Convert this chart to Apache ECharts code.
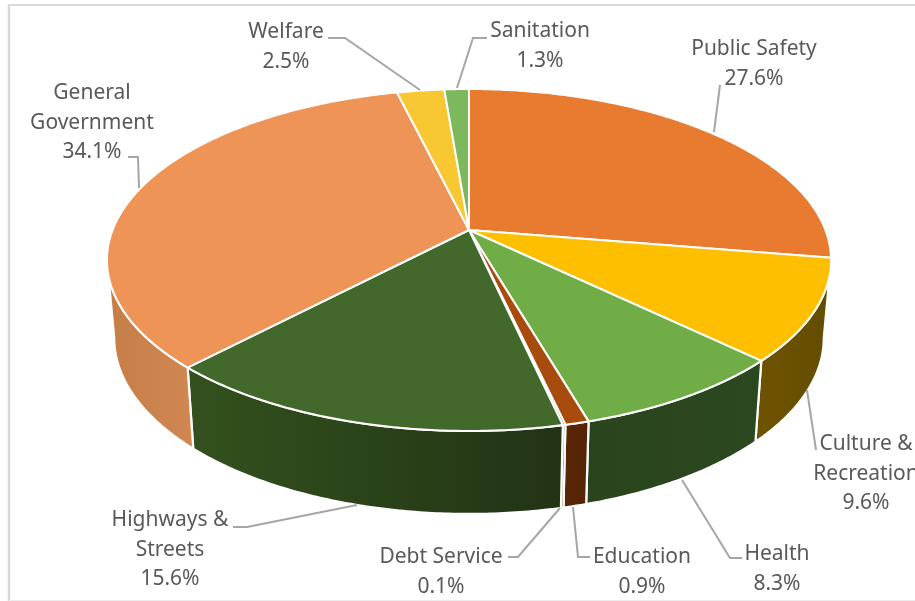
<!DOCTYPE html>
<html>
<head>
<meta charset="utf-8">
<style>html,body{margin:0;padding:0;background:#fff}#chart{width:915px;height:601px}</style>
<script src="https://cdn.jsdelivr.net/npm/echarts@6/dist/echarts.min.js"></script>
</head>
<body>
<div id="chart"></div>
<script>
// Share of spending by function, clockwise from twelve o'clock.
const categories = ['Public Safety', 'Culture &\nRecreation', 'Health', 'Education', 'Debt Service',
  'Highways &\nStreets', 'General\nGovernment', 'Welfare', 'Sanitation'];
const shares = [27.6, 9.6, 8.3, 0.9, 0.1, 15.6, 34.1, 2.5, 1.3];

const topColors = ['#E97B30', '#FDBF00', '#70AD47', '#A84C0E', '#997300', '#43682B', '#EE9456', '#F8C833', '#7DB85C'];
const wallColors = [
  ['#8A4A1C', '#8A4A1C'], ['#6E5300', '#644C00'], ['#2A451E', '#2C4820'], ['#5A2607', '#552406'], ['#5A4300', '#5A4300'],
  ['#33511E', '#223314'], ['#C67E48', '#D08751'], ['#9A7A20', '#9A7A20'], ['#4C7038', '#4C7038']
];

// Label placement: text centre, first line centre, and the leader line drawn to the slice.
const callouts = [
  { x: 754, y: 49, line: [[720, 85], [714, 132]] },
  { x: 866, y: 444, line: [[816, 450], [807, 390]] },
  { x: 777, y: 554, line: [[742, 558], [730, 558], [682, 480]] },
  { x: 642, y: 557, line: [[590, 557], [578, 557], [573, 507]] },
  { x: 441, y: 557, line: [[508, 557], [518, 557], [560, 508]] },
  { x: 170, y: 520, line: [[233, 527], [247, 527], [357, 505]] },
  { x: 92, y: 93, line: [[128, 157], [138, 157], [139, 188]] },
  { x: 286, y: 32, line: [[328, 38], [345, 38], [420, 90]] },
  { x: 540, y: 31, line: [[487, 38], [473, 38], [457, 88]] }
];

// Perspective projection of the disc: angle runs clockwise from the far point.
const view = { cx: 469, cy: 230, a: 356.4, b: 165.7, k: 0.1754, floorY: 307, floorSx: 0.98, floorSy: 1.03 };

function rimPoint(theta, floor) {
  const w = 1 + view.k * Math.cos(theta);
  const dx = view.a * Math.sin(theta) / w;
  const dy = -view.b * Math.cos(theta) / w;
  return floor
    ? [view.cx + dx * view.floorSx, view.floorY + dy * view.floorSy]
    : [view.cx + dx, view.cy + dy];
}

function arc(from, to, floor) {
  const pts = [];
  const n = Math.max(2, Math.ceil(Math.abs(to - from) / 0.01));
  for (let i = 0; i <= n; i++) pts.push(rimPoint(from + (to - from) * i / n, floor));
  return pts;
}

const total = shares.reduce((s, v) => s + v, 0);
const sliceAngles = [];
shares.reduce((acc, v) => {
  sliceAngles.push([acc / total * 2 * Math.PI, (acc + v) / total * 2 * Math.PI]);
  return acc + v;
}, 0);

// Only the near side of the drum is visible, between the two silhouette tangents.
const silhouette = Math.acos(-view.k);

function renderWall(params) {
  const i = params.dataIndex;
  const from = Math.max(sliceAngles[i][0], silhouette);
  const to = Math.min(sliceAngles[i][1], 2 * Math.PI - silhouette);
  if (to <= from) return { type: 'group', children: [] };
  const points = arc(from, to, false).concat(arc(to, from, true));
  return {
    type: 'polygon',
    shape: { points },
    style: {
      fill: new echarts.graphic.LinearGradient(0, 0, 1, 0, [
        { offset: 0, color: wallColors[i][0] }, { offset: 1, color: wallColors[i][1] }
      ]),
      stroke: '#fff', lineWidth: 2.2, lineJoin: 'round'
    }
  };
}

function renderTop(params) {
  const i = params.dataIndex;
  const points = [[view.cx, view.cy]].concat(arc(sliceAngles[i][0], sliceAngles[i][1], false));
  return {
    type: 'polygon',
    shape: { points },
    style: { fill: topColors[i], stroke: '#fff', lineWidth: 2, lineJoin: 'round' }
  };
}

function renderCallout(params, api) {
  const i = params.dataIndex;
  const c = callouts[i];
  return {
    type: 'group',
    children: [
      {
        type: 'polyline',
        shape: { points: c.line },
        style: { fill: 'none', stroke: '#A6A6A6', lineWidth: 2 }
      },
      {
        type: 'text',
        style: {
          x: c.x, y: c.y - 15,
          text: categories[i] + '\n' + api.value(0).toFixed(1) + '%',
          align: 'center', verticalAlign: 'top',
          lineHeight: 29.7,
          font: '21px "Noto Sans", sans-serif',
          fill: '#595959'
        }
      }
    ]
  };
}

const chart = echarts.init(document.getElementById('chart'), null, { renderer: 'canvas' });
chart.setOption({
  animation: false,
  backgroundColor: '#fff',
  graphic: [
    { type: 'line', silent: true, shape: { x1: 9, y1: 5, x2: 915, y2: 5 }, style: { stroke: '#D9D9D9', lineWidth: 2 } },
    { type: 'line', silent: true, shape: { x1: 9, y1: 4, x2: 9, y2: 601 }, style: { stroke: '#D9D9D9', lineWidth: 2.5 } },
    { type: 'line', silent: true, shape: { x1: 9, y1: 600.5, x2: 915, y2: 600.5 }, style: { stroke: '#ECECEC', lineWidth: 1 } }
  ],
  series: [
    { type: 'custom', coordinateSystem: 'none', z: 1, silent: true, renderItem: renderWall, data: shares },
    { type: 'custom', coordinateSystem: 'none', z: 2, silent: true, renderItem: renderTop, data: shares },
    { type: 'custom', coordinateSystem: 'none', z: 3, silent: true, renderItem: renderCallout, data: shares }
  ]
});
</script>
</body>
</html>
